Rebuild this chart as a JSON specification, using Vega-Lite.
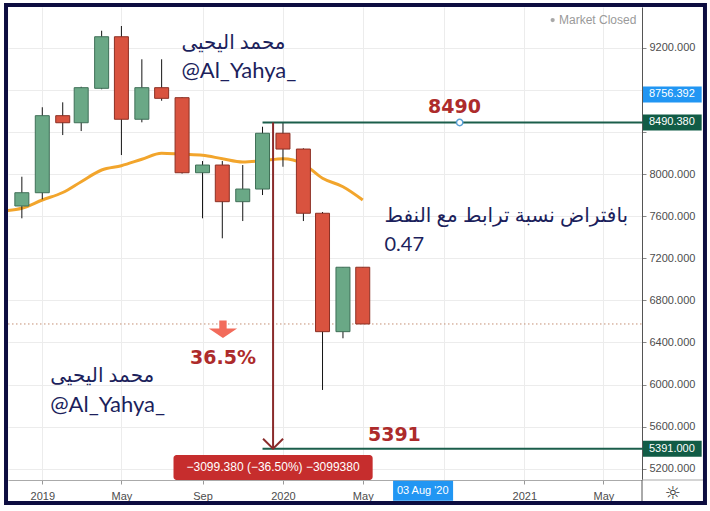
{
  "$schema": "https://vega.github.io/schema/vega-lite/v6.json",
  "width": 634,
  "height": 473,
  "autosize": {"type": "none"},
  "padding": {"left": 8, "top": 7, "right": 68, "bottom": 31},
  "background": "white",
  "config": {"view": {"stroke": null}},
  "datasets": {
    "candles": [
      {"date": "2018-12-01", "open": 7697, "high": 7975, "low": 7580, "close": 7823},
      {"date": "2019-01-01", "open": 7823, "high": 8635, "low": 7760, "close": 8555},
      {"date": "2019-02-01", "open": 8555, "high": 8682, "low": 8371, "close": 8488},
      {"date": "2019-03-01", "open": 8488, "high": 8830, "low": 8409, "close": 8821},
      {"date": "2019-04-01", "open": 8815, "high": 9362, "low": 8806, "close": 9305},
      {"date": "2019-05-01", "open": 9305, "high": 9407, "low": 8181, "close": 8521},
      {"date": "2019-06-01", "open": 8521, "high": 9091, "low": 8492, "close": 8821},
      {"date": "2019-07-01", "open": 8821, "high": 9091, "low": 8697, "close": 8720},
      {"date": "2019-08-01", "open": 8726, "high": 8730, "low": 8005, "close": 8013},
      {"date": "2019-09-01", "open": 8013, "high": 8124, "low": 7580, "close": 8086},
      {"date": "2019-10-01", "open": 8086, "high": 8124, "low": 7390, "close": 7738},
      {"date": "2019-11-01", "open": 7738, "high": 8086, "low": 7554, "close": 7858},
      {"date": "2019-12-01", "open": 7858, "high": 8450, "low": 7801, "close": 8388},
      {"date": "2020-01-01", "open": 8388, "high": 8490, "low": 8070, "close": 8238},
      {"date": "2020-02-01", "open": 8238, "high": 8245, "low": 7554, "close": 7628},
      {"date": "2020-03-01", "open": 7628, "high": 7640, "low": 5949, "close": 6503},
      {"date": "2020-04-01", "open": 6503, "high": 7115, "low": 6440, "close": 7115},
      {"date": "2020-05-01", "open": 7115, "high": 7115, "low": 6576, "close": 6576}
    ],
    "ma": [
      {"date": "2018-11-01", "ma": 7650},
      {"date": "2018-12-01", "ma": 7675},
      {"date": "2019-01-01", "ma": 7754},
      {"date": "2019-02-01", "ma": 7825},
      {"date": "2019-03-01", "ma": 7928},
      {"date": "2019-04-01", "ma": 8039},
      {"date": "2019-05-01", "ma": 8080},
      {"date": "2019-06-01", "ma": 8141},
      {"date": "2019-07-01", "ma": 8198},
      {"date": "2019-08-01", "ma": 8188},
      {"date": "2019-09-01", "ma": 8179},
      {"date": "2019-10-01", "ma": 8146},
      {"date": "2019-11-01", "ma": 8115},
      {"date": "2019-12-01", "ma": 8127},
      {"date": "2020-01-01", "ma": 8146},
      {"date": "2020-02-01", "ma": 8096},
      {"date": "2020-03-01", "ma": 7960},
      {"date": "2020-04-01", "ma": 7880},
      {"date": "2020-05-01", "ma": 7754}
    ],
    "levels": [
      {"date": "2019-12-01", "price": 8490.38},
      {"date": "2019-12-01", "price": 5391}
    ],
    "tags": [
      {"price": 8756.392, "label": "8756.392", "kind": "crosshair"},
      {"price": 8490.38, "label": "8490.380", "kind": "level"},
      {"price": 5391, "label": "5391.000", "kind": "level"}
    ],
    "last": [{"price": 6576}],
    "measure": [
      {"date": "2019-12-17", "from": 8490.38, "to": 5391, "label": "−3099.380 (−36.50%) −3099380"}
    ],
    "notes": [
      {"date": "2019-07-31", "value": 9245, "text": "محمد اليحيى"},
      {"date": "2019-07-31", "value": 8979, "text": "@Al_Yahya_"},
      {"date": "2019-01-13", "value": 6082, "text": "محمد اليحيى"},
      {"date": "2019-01-13", "value": 5806, "text": "@Al_Yahya_"},
      {"date": "2020-06-03", "value": 7602, "text": "بافتراض نسبة ترابط مع النفط"},
      {"date": "2020-06-03", "value": 7326, "text": "0.47"}
    ],
    "bigLabels": [
      {"date": "2020-09-17", "value": 8633, "text": "8490"},
      {"date": "2020-06-18", "value": 5521, "text": "5391"},
      {"date": "2019-10-02", "value": 6250, "text": "36.5%"}
    ]
  },
  "layer": [
    {
      "data": {"name": "last"},
      "mark": {"type": "rule", "color": "#c48f74", "strokeWidth": 1, "strokeDash": [1.5, 2.5]},
      "encoding": {
        "y": {
          "field": "price", "type": "quantitative", "title": null,
          "scale": {"domain": [5093.6, 9587.6], "nice": false, "zero": false, "padding": 0},
          "axis": {
            "orient": "right", "title": null, "grid": true, "gridColor": "#ececec", "gridWidth": 1,
            "values": [5200, 5600, 6000, 6400, 6800, 7200, 7600, 8000, 8400, 8800, 9200, 9600],
            "labelExpr": "datum.value == 8800 || datum.value == 8400 ? '' : format(datum.value, '.3f')",
            "labelFont": "Liberation Sans", "labelFontSize": 11, "labelColor": "#4d4d4d",
            "tickSize": 4, "tickColor": "#888", "domainColor": "#555", "labelPadding": 3,
            "labelOverlap": false, "labelBound": false, "labelFlush": false
          }
        },
        "x": {
          "datum": {"year": 2018, "month": 11, "date": 10, "utc": true}, "type": "temporal",
          "scale": {"type": "utc", "padding": 0, "domain": [{"year": 2018, "month": 11, "date": 10, "utc": true}, {"year": 2021, "month": 6, "date": 28, "hours": 12, "utc": true}]},
          "axis": {
            "orient": "bottom", "title": null, "grid": true, "gridColor": "#ececec", "gridWidth": 1,
            "values": [
              {"year": 2019, "month": 1, "date": 1, "utc": true}, {"year": 2019, "month": 5, "date": 1, "utc": true},
              {"year": 2019, "month": 9, "date": 1, "utc": true}, {"year": 2020, "month": 1, "date": 1, "utc": true},
              {"year": 2020, "month": 5, "date": 1, "utc": true}, {"year": 2020, "month": 9, "date": 1, "utc": true},
              {"year": 2021, "month": 1, "date": 1, "utc": true}, {"year": 2021, "month": 5, "date": 1, "utc": true}
            ],
            "labelExpr": "utcFormat(datum.value, '%m') == '01' ? utcFormat(datum.value, '%Y') : (utcFormat(datum.value, '%Y-%m') == '2020-09' ? '' : utcFormat(datum.value, '%b'))",
            "labelFont": "Liberation Sans", "labelFontSize": 11, "labelColor": "#4d4d4d",
            "tickSize": 4, "tickColor": "#999", "domainColor": "#aaa", "labelPadding": 6,
            "labelOverlap": false, "labelFlush": false, "labelBound": false
          }
        },
        "x2": {"datum": {"year": 2021, "month": 6, "date": 28, "hours": 12, "utc": true}}
      }
    },
    {
      "data": {"values": [{"line": "price-axis"}]},
      "mark": {"type": "rule", "color": "#555", "strokeWidth": 1},
      "encoding": {
        "x": {"datum": {"year": 2021, "month": 6, "date": 28, "hours": 12, "utc": true}, "type": "temporal"},
        "y": {"datum": 5093.6, "type": "quantitative"},
        "y2": {"datum": 4894}
      }
    },
    {
      "data": {"values": [{"line": "time-axis"}]},
      "mark": {"type": "rule", "color": "#aaa", "strokeWidth": 1},
      "encoding": {
        "x": {"datum": {"year": 2021, "month": 6, "date": 28, "hours": 12, "utc": true}, "type": "temporal"},
        "x2": {"datum": {"year": 2021, "month": 9, "date": 29, "utc": true}},
        "y": {"datum": 5093.6, "type": "quantitative"}
      }
    },
    {
      "data": {"name": "ma"},
      "mark": {"type": "line", "color": "#f2a52c", "strokeWidth": 3, "interpolate": "monotone", "clip": true},
      "encoding": {
        "x": {"field": "date", "type": "temporal", "title": null},
        "y": {"field": "ma", "type": "quantitative", "title": null}
      }
    },
    {
      "data": {"name": "candles"},
      "mark": {"type": "rule", "color": "#151515", "strokeWidth": 1},
      "encoding": {
        "x": {"field": "date", "type": "temporal", "title": null},
        "y": {"field": "low", "type": "quantitative", "title": null},
        "y2": {"field": "high"}
      }
    },
    {
      "data": {"name": "candles"},
      "mark": {"type": "bar", "width": 14, "strokeWidth": 1},
      "encoding": {
        "x": {"field": "date", "type": "temporal", "title": null},
        "y": {"field": "open", "type": "quantitative", "title": null},
        "y2": {"field": "close"},
        "fill": {"condition": {"test": "datum.close >= datum.open", "value": "#6aa886"}, "value": "#d9533f"},
        "stroke": {"condition": {"test": "datum.close >= datum.open", "value": "#3f6f57"}, "value": "#8c3024"}
      }
    },
    {
      "data": {"name": "levels"},
      "mark": {"type": "rule", "color": "#1b5e4b", "strokeWidth": 2},
      "encoding": {
        "x": {"field": "date", "type": "temporal", "title": null},
        "x2": {"datum": {"year": 2021, "month": 6, "date": 30, "utc": true}},
        "y": {"field": "price", "type": "quantitative", "title": null}
      }
    },
    {
      "data": {"name": "measure"},
      "mark": {"type": "rule", "color": "#8a2b2b", "strokeWidth": 2},
      "encoding": {
        "x": {"field": "date", "type": "temporal", "title": null},
        "y": {"field": "from", "type": "quantitative", "title": null},
        "y2": {"field": "to"}
      }
    },
    {
      "data": {"name": "measure"},
      "mark": {"type": "point", "shape": "M-1,-1L0,0L1,-1", "size": 400, "filled": false, "color": "#8a2b2b", "strokeWidth": 2, "opacity": 1},
      "encoding": {
        "x": {"field": "date", "type": "temporal", "title": null},
        "y": {"field": "to", "type": "quantitative", "title": null}
      }
    },
    {
      "data": {"name": "measure"},
      "mark": {"type": "rect", "color": "#c62d2d", "cornerRadius": 3},
      "encoding": {
        "x": {"datum": {"year": 2019, "month": 7, "date": 19, "utc": true}, "type": "temporal"},
        "x2": {"datum": {"year": 2020, "month": 5, "date": 16, "utc": true}},
        "y": {"datum": 5331, "type": "quantitative"},
        "y2": {"datum": 5094}
      }
    },
    {
      "data": {"name": "measure"},
      "mark": {"type": "text", "color": "white", "font": "Liberation Sans", "fontSize": 12, "align": "center", "baseline": "middle"},
      "encoding": {
        "x": {"field": "date", "type": "temporal", "title": null},
        "y": {"datum": 5213, "type": "quantitative"},
        "text": {"field": "label"}
      }
    },
    {
      "data": {"values": [{"date": "2020-09-25", "price": 8490.38}]},
      "mark": {"type": "point", "shape": "circle", "size": 40, "filled": true, "fill": "white", "stroke": "#5a9fd4", "strokeWidth": 1.5, "opacity": 1},
      "encoding": {
        "x": {"field": "date", "type": "temporal", "title": null},
        "y": {"field": "price", "type": "quantitative", "title": null}
      }
    },
    {
      "data": {"name": "tags"},
      "mark": {"type": "bar", "height": 16},
      "encoding": {
        "x": {"datum": {"year": 2021, "month": 6, "date": 30, "utc": true}, "type": "temporal"},
        "x2": {"datum": {"year": 2021, "month": 9, "date": 27, "utc": true}},
        "y": {"field": "price", "type": "quantitative", "title": null},
        "color": {"field": "kind", "type": "nominal", "scale": {"domain": ["crosshair", "level"], "range": ["#2196f3", "#115c46"]}, "legend": null}
      }
    },
    {
      "data": {"name": "tags"},
      "mark": {"type": "text", "color": "white", "font": "Liberation Sans", "fontSize": 11, "align": "left", "baseline": "middle"},
      "encoding": {
        "x": {"datum": {"year": 2021, "month": 7, "date": 9, "utc": true}, "type": "temporal"},
        "y": {"field": "price", "type": "quantitative", "title": null},
        "text": {"field": "label"}
      }
    },
    {
      "data": {"values": [{"label": "03 Aug '20"}]},
      "mark": {"type": "bar", "height": 20, "color": "#2196f3"},
      "encoding": {
        "x": {"datum": {"year": 2020, "month": 6, "date": 16, "utc": true}, "type": "temporal"},
        "x2": {"datum": {"year": 2020, "month": 9, "date": 15, "utc": true}},
        "y": {"datum": 4992, "type": "quantitative"}
      }
    },
    {
      "data": {"values": [{"label": "03 Aug '20"}]},
      "mark": {"type": "text", "color": "white", "font": "Liberation Sans", "fontSize": 11, "align": "center", "baseline": "middle"},
      "encoding": {
        "x": {"datum": {"year": 2020, "month": 7, "date": 31, "utc": true}, "type": "temporal"},
        "y": {"datum": 4992, "type": "quantitative"},
        "text": {"field": "label"}
      }
    },
    {
      "data": {"values": [{"label": "☼"}]},
      "mark": {"type": "text", "color": "#333", "font": "DejaVu Sans", "fontSize": 18, "align": "center", "baseline": "middle"},
      "encoding": {
        "x": {"datum": {"year": 2021, "month": 8, "date": 14, "utc": true}, "type": "temporal"},
        "y": {"datum": 4960, "type": "quantitative"},
        "text": {"field": "label"}
      }
    },
    {
      "data": {"name": "bigLabels"},
      "mark": {"type": "text", "color": "#ad2b2b", "font": "DejaVu Sans", "fontWeight": "bold", "fontSize": 19, "align": "center", "baseline": "middle"},
      "encoding": {
        "x": {"field": "date", "type": "temporal", "title": null},
        "y": {"field": "value", "type": "quantitative", "title": null},
        "text": {"field": "text"}
      }
    },
    {
      "data": {"values": [{"date": "2019-10-02", "value": 6526}]},
      "mark": {"type": "point", "shape": "M-0.26,-0.62L0.26,-0.62L0.26,-0.05L1,-0.05L0,0.62L-1,-0.05L-0.26,-0.05Z", "size": 800, "filled": true, "color": "#f26b5b", "opacity": 1},
      "encoding": {
        "x": {"field": "date", "type": "temporal", "title": null},
        "y": {"field": "value", "type": "quantitative", "title": null}
      }
    },
    {
      "data": {"name": "notes"},
      "mark": {"type": "text", "color": "#1c1f5c", "font": "Lato, DejaVu Sans, sans-serif", "align": "left", "baseline": "middle"},
      "encoding": {
        "x": {"field": "date", "type": "temporal", "title": null},
        "y": {"field": "value", "type": "quantitative", "title": null},
        "text": {"field": "text"},
        "size": {"condition": {"test": "datum.text == '@Al_Yahya_'", "value": 22}, "value": 20}
      }
    },
    {
      "data": {"values": [{"label": "Market Closed"}]},
      "mark": {"type": "text", "color": "#9a9a9a", "font": "Liberation Sans", "fontSize": 12, "align": "right", "baseline": "middle"},
      "encoding": {
        "x": {"datum": {"year": 2021, "month": 6, "date": 20, "utc": true}, "type": "temporal"},
        "y": {"datum": 9464, "type": "quantitative"},
        "text": {"field": "label"}
      }
    },
    {
      "data": {"values": [{"label": "dot"}]},
      "mark": {"type": "point", "shape": "circle", "size": 18, "filled": true, "color": "#a8a8a8", "opacity": 1},
      "encoding": {
        "x": {"datum": {"year": 2021, "month": 2, "date": 13, "utc": true}, "type": "temporal"},
        "y": {"datum": 9464, "type": "quantitative"}
      }
    },
    {
      "data": {"values": [{"frame": "border"}]},
      "mark": {"type": "rect", "filled": false, "stroke": "#0d0d40", "strokeWidth": 4, "clip": false},
      "encoding": {
        "x": {"datum": {"year": 2018, "month": 11, "date": 7, "utc": true}, "type": "temporal"},
        "x2": {"datum": {"year": 2021, "month": 10, "date": 2, "utc": true}},
        "y": {"datum": 9606.6, "type": "quantitative"},
        "y2": {"datum": 4875.1}
      }
    }
  ]
}
